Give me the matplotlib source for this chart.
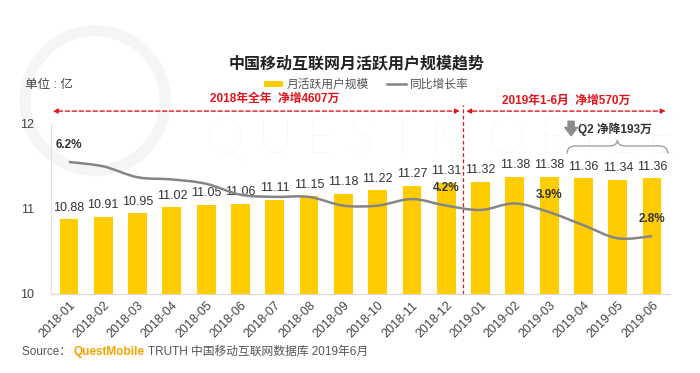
import matplotlib
matplotlib.use('Agg')
import matplotlib.pyplot as plt
from matplotlib.path import Path
from matplotlib.patches import PathPatch, Ellipse

plt.rcParams['font.family'] = ['Liberation Sans', 'Noto Sans CJK SC', 'DejaVu Sans']

# data
months = ['2018-01', '2018-02', '2018-03', '2018-04', '2018-05', '2018-06',
          '2018-07', '2018-08', '2018-09', '2018-10', '2018-11', '2018-12',
          '2019-01', '2019-02', '2019-03', '2019-04', '2019-05', '2019-06']
mau = [10.88, 10.91, 10.95, 11.02, 11.05, 11.06, 11.11, 11.15, 11.18,
       11.22, 11.27, 11.31, 11.32, 11.38, 11.38, 11.36, 11.34, 11.36]
yoy = [6.2, 6.0, 5.5, 5.4, 5.2, 4.7, 4.6, 4.6, 4.2,
       4.2, 4.5, 4.2, 4.0, 4.3, 3.9, 3.3, 2.7, 2.8]
yoy_shown = [0, 11, 14, 17]
yticks = [10, 11, 12]

title = '中国移动互联网月活跃用户规模趋势'
note_2018 = '2018年全年  净增4607万'
note_2019 = '2019年1-6月  净增570万'
note_q2 = 'Q2 净降193万'

YELLOW = '#FFCC00'
GRAY_LINE = '#858585'
RED = '#E0141E'

fig = plt.figure(figsize=(7, 3.73), dpi=100)

# faint watermark
fig.patches.append(Ellipse((0.136, 0.73), 0.2, 0.375, transform=fig.transFigure,
                           fill=False, ec='#f5f5f5', lw=8, zorder=-2))
fig.text(0.295, 0.625, 'Q U E S T M O B I L E', fontsize=35, family='Lato',
         fontweight='light', color='#f4f4f4', va='center', ha='left', zorder=-1)

ax = fig.add_axes([0.073, 0.212, 0.884, 0.456])
ax.set_facecolor('none')
x = list(range(len(months)))
bars = ax.bar(x, [v - 10 for v in mau], bottom=10, width=0.55, color=YELLOW,
              label='月活跃用户规模', zorder=2)
for xi, v in zip(x, mau):
    ax.annotate(f'{v:.2f}', (xi, v), xytext=(0, 4), textcoords='offset points',
                ha='center', va='bottom', fontsize=9, color='#333333', zorder=5)

ax.set_xlim(-0.52, 17.52)
ax.set_ylim(10, 12)
ax.set_yticks(yticks)
ax.set_xticks(x)
ax.set_xticklabels(months, rotation=45, ha='right', rotation_mode='anchor',
                   fontsize=9, color='#444444')
ax.tick_params(axis='y', length=0, pad=12, labelsize=9, labelcolor='#444444')
ax.tick_params(axis='x', length=0, pad=4)
for s in ['top', 'right']:
    ax.spines[s].set_visible(False)
ax.spines['left'].set_color('#e0e0e0')
ax.spines['bottom'].set_color('#d9d9d9')

ax2 = ax.twinx()
ax2.set_ylim(0.15, 7.95)
ax2.axis('off')

# smoothed growth-rate line (bezier through the data points)
pts = list(zip(x, yoy))
verts = [pts[0]]
codes = [Path.MOVETO]
for i in range(len(pts) - 1):
    p0 = pts[i - 1] if i > 0 else pts[i]
    p1, p2 = pts[i], pts[i + 1]
    p3 = pts[i + 2] if i + 2 < len(pts) else pts[i + 1]
    c1 = (p1[0] + (p2[0] - p0[0]) / 6, p1[1] + (p2[1] - p0[1]) / 6)
    c2 = (p2[0] - (p3[0] - p1[0]) / 6, p2[1] - (p3[1] - p1[1]) / 6)
    verts += [c1, c2, p2]
    codes += [Path.CURVE4] * 3
ax2.add_patch(PathPatch(Path(verts, codes), fill=False, ec=GRAY_LINE, lw=1.8, zorder=3))
line, = ax2.plot([], [], color=GRAY_LINE, lw=1.8, label='同比增长率')
for i in yoy_shown:
    ax2.annotate(f'{yoy[i]:.1f}%', (x[i], yoy[i]), xytext=(0, 8),
                 textcoords='offset points', ha='center', va='bottom',
                 fontsize=8.5, fontweight='bold', color='#333333')

ax.legend(handles=[bars, line], loc='center', bbox_to_anchor=(0.523, 0.772),
          bbox_transform=fig.transFigure, ncol=2, frameon=False, fontsize=8.5,
          handlelength=1.6, handleheight=0.45, handletextpad=0.3,
          columnspacing=1.6, labelcolor='#555555')

# red dashed annotations
ax.annotate('', xy=(-0.47, 12.15), xytext=(11.4, 12.15), annotation_clip=False,
            arrowprops=dict(arrowstyle='<|-|>', color=RED, lw=1, ls=(0, (3, 2)),
                            mutation_scale=7, shrinkA=0, shrinkB=0))
ax.annotate('', xy=(11.58, 12.15), xytext=(17.4, 12.15), annotation_clip=False,
            arrowprops=dict(arrowstyle='<|-|>', color=RED, lw=1, ls=(0, (3, 2)),
                            mutation_scale=7, shrinkA=0, shrinkB=0))
ax.plot([11.5, 11.5], [10, 12.22], color=RED, lw=0.9, ls=(0, (3, 2)), clip_on=False)
ax.text(6.0, 12.29, note_2018, ha='center', va='center', fontsize=8.5,
        fontweight='bold', color=RED)
ax.text(14.5, 12.27, note_2019, ha='center', va='center', fontsize=8.5,
        fontweight='bold', color=RED)

# Q2 note with down arrow and brace
ax.annotate('', xy=(14.64, 11.86), xytext=(14.64, 12.03), annotation_clip=False,
            arrowprops=dict(arrowstyle='simple,head_width=0.9,head_length=0.6,tail_width=0.45',
                            color='#8c8c8c', shrinkA=0, shrinkB=0))
ax.text(14.84, 11.94, note_q2, ha='left', va='center', fontsize=8.5,
        fontweight='bold', color='#333333')
x0, x1 = 14.52, 17.46
xm = (x0 + x1) / 2
ye, yb, yt = 11.65, 11.74, 11.81
d = 0.25
bverts = [(x0, ye), (x0, yb), (x0 + d, yb), (xm - d, yb), (xm, yb), (xm, yt),
          (xm, yb), (xm + d, yb), (x1 - d, yb), (x1, yb), (x1, ye)]
bcodes = [Path.MOVETO, Path.CURVE3, Path.CURVE3, Path.LINETO, Path.CURVE3, Path.CURVE3,
          Path.CURVE3, Path.CURVE3, Path.LINETO, Path.CURVE3, Path.CURVE3]
ax.add_patch(PathPatch(Path(bverts, bcodes), fill=False, ec='#a0a0a0', lw=1, clip_on=False))

fig.text(0.51, 0.831, title, ha='center', va='center', fontsize=11.5,
         fontweight='bold', color='#222222')
fig.text(0.036, 0.772, '单位 : 亿', ha='left', va='center', fontsize=9, color='#444444')

t1 = fig.text(0.031, 0.04, 'Source： ', ha='left', va='bottom', fontsize=8.5, color='#555555')
t2 = ax.annotate('QuestMobile', xy=(1, 0), xycoords=t1, ha='left', va='bottom',
                 fontsize=8.5, fontweight='bold', color='#F5A300')
ax.annotate(' TRUTH 中国移动互联网数据库 2019年6月', xy=(1, 0), xycoords=t2,
            ha='left', va='bottom', fontsize=8.5, color='#555555')

fig.savefig('out.png', dpi=100)
